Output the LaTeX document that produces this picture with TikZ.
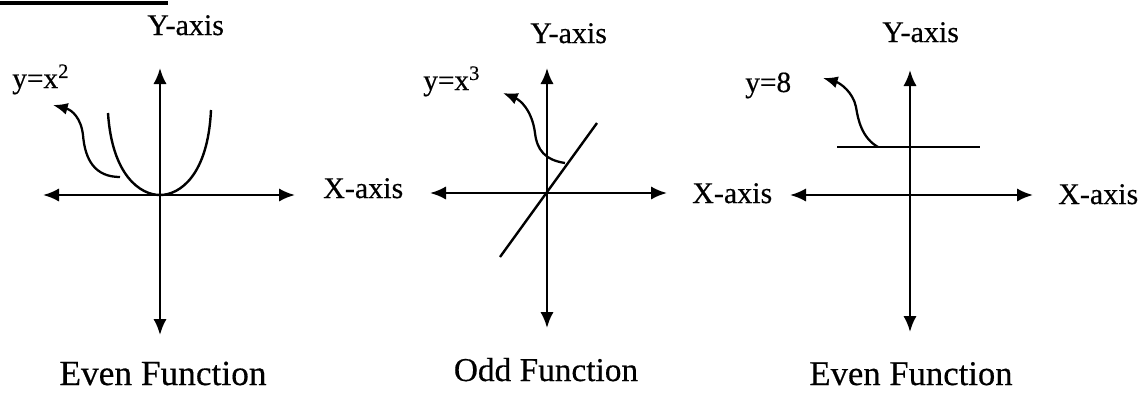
\documentclass[tikz,border=0pt]{standalone}
\usepackage{fontspec}
\setmainfont{Liberation Serif}[FakeBold=0.4]
\usetikzlibrary{arrows.meta}
\begin{document}
\begin{tikzpicture}[x=0.75pt,y=-0.75pt,
  axis/.style={line width=1.9pt,{Latex[length=12pt,width=10pt]}-{Latex[length=12pt,width=10pt]}},
  curve/.style={line width=1.8pt},
  pointer/.style={line width=1.7pt,-{Latex[length=11pt,width=9pt]}},
  axlab/.style={inner sep=0pt,anchor=base west,font=\fontsize{22.5}{26}\selectfont},
  fnlab/.style={inner sep=0pt,anchor=base west,font=\fontsize{22}{26}\selectfont},
  title/.style={inner sep=0pt,anchor=base,font=\fontsize{26.5}{30}\selectfont}]
\useasboundingbox (0,0) rectangle (1141,394);
% cut-off heading underline
\draw[line width=3pt] (0,3) -- (168,3);

% ---------- panel 1: y = x^2 ----------
\coordinate (o1) at (160,195);
\coordinate (t1) at (160,68);
\coordinate (b1) at (160,335);
\coordinate (l1) at (43,195);
\coordinate (r1) at (295,195);
\draw[axis] (t1) -- (b1);
\draw[axis] (l1) -- (r1);
\coordinate (p1a) at (108,113);
\coordinate (p1b) at (211,110);
\coordinate (p1s) at (120,177);
\coordinate (p1e) at (53,105);
\draw[curve] (p1a) .. controls (112,175) and (140,195) .. (o1)
                   .. controls (180,195) and (208,175) .. (p1b);
\draw[pointer] (p1s) .. controls (95,177) and (85,160) .. (83,135)
                     .. controls (81,118) and (72,110) .. (p1e);
\node[axlab] (ylab1) at (147,35) {Y-axis};
\node[axlab] (xlab1) at (323,198) {X-axis};
\node[fnlab] (f1) at (12,88) {y=x\textsuperscript{2}};
\node[title] (c1) at (163,385) {Even Function};

% ---------- panel 2: y = x^3 ----------
\coordinate (o2) at (547,193);
\coordinate (t2) at (547,68);
\coordinate (b2) at (547,328);
\coordinate (l2) at (430,193);
\coordinate (r2) at (667,193);
\draw[axis] (t2) -- (b2);
\draw[axis] (l2) -- (r2);
\coordinate (q2a) at (500,257);
\coordinate (q2b) at (597,123);
\coordinate (p2s) at (565,163);
\coordinate (p2e) at (503,93);
\draw[curve] (q2a) -- (q2b);
\draw[pointer] (p2s) .. controls (545,160) and (537,150) .. (535,133)
                     .. controls (532,110) and (520,100) .. (p2e);
\node[axlab] (ylab2) at (530,43) {Y-axis};
\node[axlab] (xlab2) at (692,203) {X-axis};
\node[fnlab] (f2) at (423,90) {y=x\textsuperscript{3}};
\node[title,font=\fontsize{25}{29}\selectfont] (c2) at (546,381) {Odd Function};

% ---------- panel 3: y = 8 ----------
\coordinate (o3) at (910,195);
\coordinate (t3) at (910,70);
\coordinate (b3) at (910,332);
\coordinate (l3) at (790,195);
\coordinate (r3) at (1033,195);
\draw[axis] (t3) -- (b3);
\draw[axis] (l3) -- (r3);
\coordinate (h3a) at (837,147);
\coordinate (h3b) at (980,147);
\coordinate (p3s) at (878,147);
\coordinate (p3e) at (823,78);
\draw[curve] (h3a) -- (h3b);
\draw[pointer] (p3s) .. controls (862,138) and (858,120) .. (856,107)
                     .. controls (853,92) and (840,83) .. (p3e);
\node[axlab] (ylab3) at (882,42) {Y-axis};
\node[axlab] (xlab3) at (1058,204) {X-axis};
\node[fnlab] (f3) at (745,92) {y=8};
\node[title,font=\fontsize{26}{30}\selectfont] (c3) at (911,385) {Even Function};
\end{tikzpicture}
\end{document}
